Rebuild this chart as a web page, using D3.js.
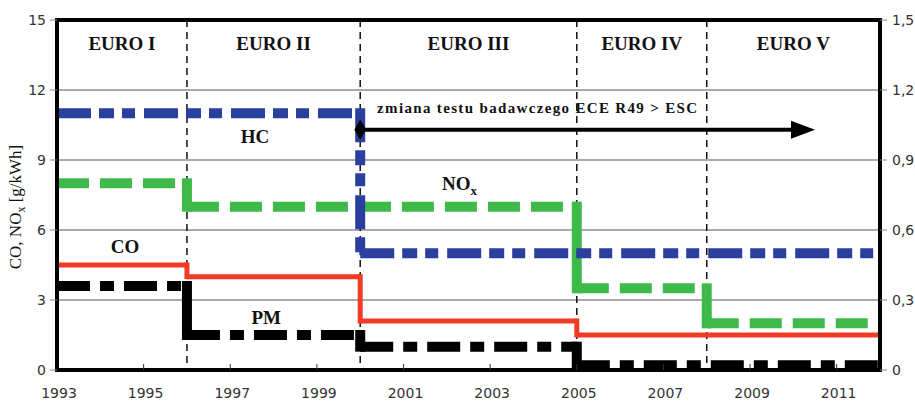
<!DOCTYPE html>
<html><head><meta charset="utf-8">
<script src="https://cdn.jsdelivr.net/npm/d3@7/dist/d3.min.js"></script>
<style>body{margin:0;background:#fff}svg{display:block}</style>
</head><body><svg id="c" width="915" height="401"></svg>
<script>
// ---- data ----
const eraBounds = [1993, 1996, 2000, 2005, 2008, 2012];
const eraLabels = ["EURO I", "EURO II", "EURO III", "EURO IV", "EURO V"];
const coValues  = [4.5, 4.0, 2.1, 1.5, 1.5];      // left axis g/kWh
const noxValues = [8.0, 7.0, 7.0, 3.5, 2.0];      // left axis g/kWh
const hcValues  = [1.1, 1.1, 0.5, 0.5, 0.5];      // right axis
const pmValues  = [0.36, 0.15, 0.10, 0.02, 0.02]; // right axis
const leftTicks = [0, 3, 6, 9, 12, 15];
const rightTicks = [0, 0.3, 0.6, 0.9, 1.2, 1.5];
const rightTickLabels = ["0", "0,3", "0,6", "0,9", "1,2", "1,5"];
const yearTicks = [1993, 1995, 1997, 1999, 2001, 2003, 2005, 2007, 2009, 2011];
const arrowFrom = 2000, arrowTo = 2010.5, arrowLevel = 10.3;

// ---- layout ----
const svg = d3.select("#c");
const L = 57, R = 880, T = 20, B = 370;
const x = d3.scaleLinear().domain([1993, 2012]).range([L, R]);
const yL = d3.scaleLinear().domain([0, 15]).range([B, T]);
const yR = d3.scaleLinear().domain([0, 1.5]).range([B, T]);
const serif = "'Liberation Serif','Times New Roman',serif";
const sans = "'DejaVu Sans',Verdana,sans-serif";

// gridlines
svg.append("g").selectAll("line").data(leftTicks.filter(d => d > 0 && d < 15)).join("line")
  .attr("x1", L).attr("x2", R).attr("y1", d => yL(d)).attr("y2", d => yL(d))
  .attr("stroke", "#555").attr("stroke-width", 1);

// era dividers
svg.append("g").selectAll("line").data(eraBounds.slice(1, -1)).join("line")
  .attr("x1", d => x(d)).attr("x2", d => x(d)).attr("y1", T).attr("y2", B)
  .attr("stroke", "#111").attr("stroke-width", 1.5).attr("stroke-dasharray", "7,5");

// era labels
svg.append("g").selectAll("text").data(eraLabels).join("text")
  .attr("x", (d, i) => (x(eraBounds[i]) + x(eraBounds[i + 1])) / 2).attr("y", 50)
  .attr("text-anchor", "middle").attr("font-family", serif).attr("font-weight", "bold")
  .attr("font-size", 19).attr("fill", "#111").text(d => d);

// step series
function drawStep(values, scale, color, width, dash, dashVertical) {
  const g = svg.append("g");
  const runs = [];
  values.forEach((v, i) => {
    if (runs.length && runs[runs.length - 1].v === v) runs[runs.length - 1].x1 = eraBounds[i + 1];
    else runs.push({ v, x0: eraBounds[i], x1: eraBounds[i + 1] });
  });
  runs.forEach(r => {
    g.append("line").attr("x1", x(r.x0)).attr("x2", x(r.x1))
      .attr("y1", scale(r.v)).attr("y2", scale(r.v))
      .attr("stroke", color).attr("stroke-width", width).attr("stroke-dasharray", dash);
  });
  for (let i = 1; i < runs.length; i++) {
    const ya = scale(runs[i - 1].v), yb = scale(runs[i].v);
    g.append("line").attr("x1", x(runs[i].x0)).attr("x2", x(runs[i].x0))
      .attr("y1", Math.min(ya, yb) - width / 2)
      .attr("y2", Math.max(ya, yb) + width / 2)
      .attr("stroke", color).attr("stroke-width", width)
      .attr("stroke-dasharray", dashVertical ? dash : null);
  }
}
drawStep(noxValues, yL, "#3dba4a", 10, "32,11", false);
drawStep(hcValues, yR, "#2a3f9e", 10, "34,8,15,8,13,9", true);
drawStep(pmValues, yR, "#000", 10, "33,10,14,10", false);
drawStep(coValues, yL, "#f23a25", 5, null, false);

// frame
svg.append("rect").attr("x", L).attr("y", T).attr("width", R - L).attr("height", B - T)
  .attr("fill", "none").attr("stroke", "#000").attr("stroke-width", 4);

// left axis
const gl = svg.append("g");
gl.selectAll("line").data(leftTicks).join("line")
  .attr("x1", L - 7).attr("x2", L).attr("y1", d => yL(d)).attr("y2", d => yL(d))
  .attr("stroke", "#888").attr("stroke-width", 1);
gl.selectAll("text").data(leftTicks).join("text")
  .attr("x", L - 11).attr("y", d => yL(d) + 5).attr("text-anchor", "end")
  .attr("font-family", sans).attr("font-size", 14).attr("fill", "#333").text(d => d);

// right axis
const gr = svg.append("g");
gr.selectAll("line").data(rightTicks).join("line")
  .attr("x1", R).attr("x2", R + 7).attr("y1", d => yR(d)).attr("y2", d => yR(d))
  .attr("stroke", "#888").attr("stroke-width", 1);
gr.selectAll("text").data(rightTicks).join("text")
  .attr("x", R + 12).attr("y", d => yR(d) + 5).attr("text-anchor", "start")
  .attr("font-family", sans).attr("font-size", 14).attr("fill", "#333")
  .text((d, i) => rightTickLabels[i]);

// bottom axis
const gb = svg.append("g");
gb.selectAll("line").data(yearTicks.slice(1)).join("line")
  .attr("x1", d => x(d)).attr("x2", d => x(d)).attr("y1", B).attr("y2", B - 6)
  .attr("stroke", "#333").attr("stroke-width", 1);
gb.selectAll("text").data(yearTicks).join("text")
  .attr("x", d => x(d) + 2).attr("y", 398).attr("text-anchor", "middle")
  .attr("font-family", sans).attr("font-size", 14).attr("fill", "#333").text(d => d);

// y title
const yt = svg.append("text").attr("transform", `translate(21,207) rotate(-90)`)
  .attr("text-anchor", "middle").attr("font-family", serif).attr("font-size", 17).attr("fill", "#111");
yt.append("tspan").text("CO, NO");
yt.append("tspan").attr("font-size", 12).attr("dy", 4).text("x");
yt.append("tspan").attr("dy", -4).text(" [g/kWh]");

// series labels
function lab(txt, xv, yv, anchor, sub) {
  const t = svg.append("text").attr("x", x(xv)).attr("y", yL(yv)).attr("text-anchor", anchor)
    .attr("font-family", serif).attr("font-weight", "bold").attr("font-size", 19).attr("fill", "#111");
  t.append("tspan").text(txt);
  if (sub) t.append("tspan").attr("font-size", 13).attr("dy", 5).text(sub);
}
lab("HC", 1997.57, 9.73, "middle");
lab("NO", 2001.89, 7.71, "start", "x");
lab("CO", 1994.57, 5.0, "middle");
lab("PM", 1997.83, 1.97, "middle");

// arrow annotation
svg.append("text").attr("x", x(2000.39)).attr("y", yL(11.0))
  .attr("font-family", serif).attr("font-weight", "bold").attr("font-size", 15)
  .attr("fill", "#111").attr("textLength", 320).attr("lengthAdjust", "spacing")
  .text("zmiana testu badawczego ECE R49 > ESC");
const ay = yL(arrowLevel);
svg.append("line").attr("x1", x(arrowFrom)).attr("x2", x(arrowTo) - 20).attr("y1", ay).attr("y2", ay)
  .attr("stroke", "#000").attr("stroke-width", 4);
svg.append("path")
  .attr("d", `M${x(arrowTo)},${ay} L${x(arrowTo) - 24},${ay - 9} L${x(arrowTo) - 24},${ay + 9} Z`)
  .attr("fill", "#000");
svg.append("path").attr("d", d3.symbol().type(d3.symbolDiamond).size(120)())
  .attr("transform", `translate(${x(arrowFrom)},${ay})`).attr("fill", "#000");
</script></body></html>
